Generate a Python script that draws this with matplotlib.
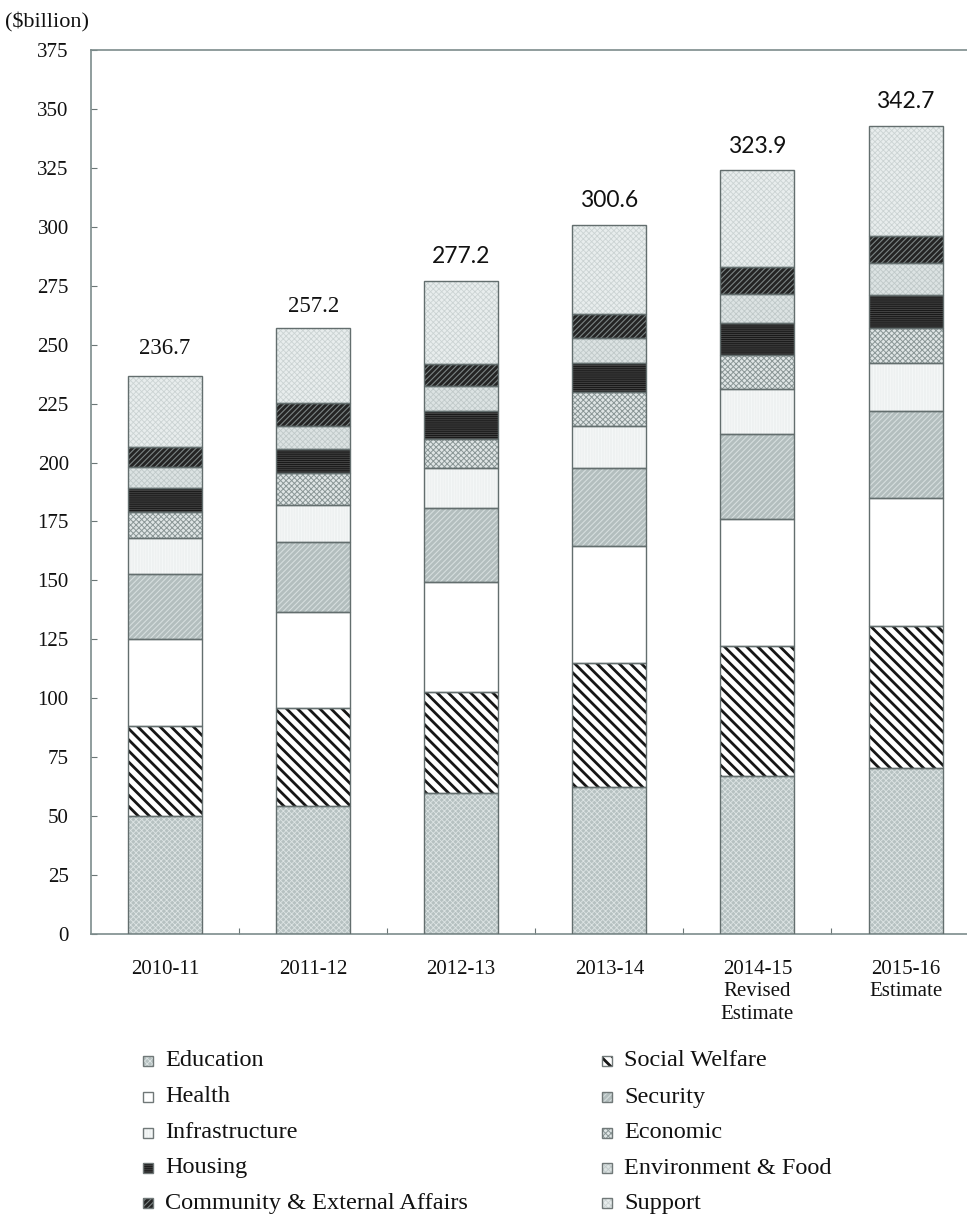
import numpy as np
import matplotlib
matplotlib.use("Agg")
import matplotlib.pyplot as plt
from matplotlib.patches import Rectangle

# Recurrent government expenditure by policy area group ($billion)
years = ["2010-11", "2011-12", "2012-13", "2013-14",
         "2014-15\nRevised\nEstimate", "2015-16\nEstimate"]
totals = [236.7, 257.2, 277.2, 300.6, 323.9, 342.7]

education      = [50.1, 54.3, 59.8, 62.4, 67.0, 70.4]
social_welfare = [38.1, 41.5, 42.9, 52.6, 55.2, 60.3]
health         = [36.8, 40.9, 46.6, 49.6, 53.7, 54.4]
security       = [27.6, 29.5, 31.4, 33.1, 36.1, 36.9]
infrastructure = [15.3, 15.8, 17.0, 18.0, 19.1, 20.1]
economic       = [11.3, 13.5, 12.3, 14.1, 14.6, 14.9]
housing        = [9.9, 10.1, 11.9, 12.3, 13.4, 14.1]
environment    = [9.2, 10.1, 10.6, 10.9, 12.4, 13.6]
community      = [8.2, 9.5, 9.3, 10.0, 11.6, 11.4]
support        = [30.2, 32.0, 35.4, 37.6, 40.8, 46.6]

series = [
    ("Education", education),
    ("Social Welfare", social_welfare),
    ("Health", health),
    ("Security", security),
    ("Infrastructure", infrastructure),
    ("Economic", economic),
    ("Housing", housing),
    ("Environment & Food", environment),
    ("Community & External Affairs", community),
    ("Support", support),
]

# face colour, hatch, hatch colour, hatch line width
styles = {
    "Education":        ("#b6c1c1", "xxxxxx", "#dde4e4", 0.6),
    "Social Welfare":   ("#ffffff", "\\\\\\", "#161616", 2.0),
    "Health":           ("#ffffff", "", "#ffffff", 0.5),
    "Security":         ("#b3bebe", "//////", "#d6dede", 0.8),
    "Infrastructure":   ("#eef1f1", "||||||", "#f8fafa", 0.5),
    "Economic":         ("#dfe5e5", "xxxxxx", "#8a9696", 0.7),
    "Housing":          ("#1a1a1a", "--------", "#4a4a4a", 0.6),
    "Environment & Food": ("#dce3e3", "xxxxxx", "#c0c9c9", 0.6),
    "Community & External Affairs": ("#242424", "//////", "#7b8484", 0.8),
    "Support":          ("#e8eded", "xxxxxx", "#cbd3d3", 0.6),
}

serif = ["Liberation Serif", "DejaVu Serif"]
plt.rcParams["font.family"] = serif

W, H = 967, 1216
fig = plt.figure(figsize=(W / 100, H / 100), dpi=100)
ax = fig.add_axes([91 / W, (H - 934) / H, (979.6 - 91) / W, 884 / H])

x = np.arange(len(years))
bottom = np.zeros(len(years))
outline = "#636e6e"


def draw_layer(name, vals, base):
    face, hatch, hcol, hlw = styles[name]
    with plt.rc_context({"hatch.linewidth": hlw}):
        bars = ax.bar(x, vals, 0.5, bottom=base, facecolor=face,
                      edgecolor=hcol, hatch=hatch, linewidth=0, zorder=2)
        for p in bars:
            if hasattr(p, "set_hatch_linewidth"):
                p.set_hatch_linewidth(hlw)
    ax.bar(x, vals, 0.5, bottom=base, fill=False, edgecolor=outline,
           linewidth=1.0, zorder=3)
    return bars


for name, vals in series:
    vals = np.asarray(vals)
    draw_layer(name, vals, bottom)
    bottom = bottom + vals

# totals above bars
offsets = [12, 8, 10, 10, 10, 10]
for i, t in enumerate(totals):
    fam = serif if i < 2 else ["Lato", "DejaVu Sans"]
    ax.annotate(f"{t:.1f}", (x[i], t), xytext=(0, offsets[i]),
                textcoords="offset points", ha="center", va="bottom",
                fontsize=16.5, family=fam, color="#111111")

ax.set_xlim(-0.5, 5.5)
ax.set_ylim(0, 375)
ax.set_yticks(np.arange(0, 376, 25))
ax.tick_params(axis="y", direction="in", length=4, width=0.8, color="#6b7676",
               labelsize=15, pad=16, labelcolor="#111111")
ax.set_xticks(x)
ax.set_xticklabels(years)
ax.set_xticks(x[:-1] + 0.5, minor=True)
ax.tick_params(axis="x", which="major", length=0, labelsize=15, pad=19,
               labelcolor="#111111")
ax.tick_params(axis="x", which="minor", direction="in", length=4, width=0.8,
               color="#6b7676")
for lab in ax.get_xticklabels():
    lab.set_linespacing(1.22)
for s in ax.spines.values():
    s.set_color("#7d8c8c")
    s.set_linewidth(1.2)

fig.text(5 / W, 1 - 22 / H, "($billion)", ha="left", va="center",
         fontsize=16, color="#111111")

# legend: two columns, row-major order
col_x = [143, 602]
row_y = [1061, 1097, 1133, 1168, 1203]
for k, (name, vals) in enumerate(series):
    col, row = k % 2, k // 2
    face, hatch, hcol, hlw = styles[name]
    rx, ry = col_x[col], row_y[row]
    with plt.rc_context({"hatch.linewidth": hlw}):
        r = Rectangle((rx / W, 1 - (ry + 5) / H), 10 / W, 10 / H,
                      transform=fig.transFigure, facecolor=face, hatch=hatch,
                      edgecolor=hcol, linewidth=0)
        if hasattr(r, "set_hatch_linewidth"):
            r.set_hatch_linewidth(hlw)
    fig.add_artist(r)
    fig.add_artist(Rectangle((rx / W, 1 - (ry + 5) / H), 10 / W, 10 / H,
                             transform=fig.transFigure, fill=False,
                             edgecolor="#707878", linewidth=1.0))
    fig.text((rx + 22) / W, 1 - ry / H, name, ha="left", va="center",
             fontsize=17.5, color="#111111")

fig.savefig("out.png", dpi=100)
